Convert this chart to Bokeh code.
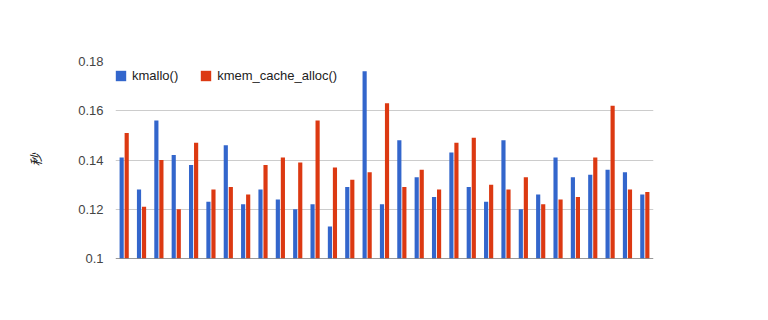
from bokeh.plotting import figure
from bokeh.models import ColumnDataSource, Range1d, FixedTicker, Span, Legend, LegendItem
from bokeh.transform import dodge
from bokeh.embed import file_html
from bokeh.resources import INLINE

groups = list(range(31))
kmallo = [0.141, 0.128, 0.156, 0.142, 0.138, 0.123, 0.146, 0.122, 0.128, 0.124,
          0.120, 0.122, 0.113, 0.129, 0.176, 0.122, 0.148, 0.133, 0.125, 0.143,
          0.129, 0.123, 0.148, 0.120, 0.126, 0.141, 0.133, 0.134, 0.136, 0.135,
          0.126]
kmem_cache_alloc = [0.151, 0.121, 0.140, 0.120, 0.147, 0.128, 0.129, 0.126, 0.138, 0.141,
                    0.139, 0.156, 0.137, 0.132, 0.135, 0.163, 0.129, 0.136, 0.128, 0.147,
                    0.149, 0.130, 0.128, 0.133, 0.122, 0.124, 0.125, 0.141, 0.162, 0.128,
                    0.127]
series_names = ["kmallo()", "kmem_cache_alloc()"]
y_ticks = [0.1, 0.12, 0.14, 0.16, 0.18]
y_tick_labels = ["0.1", "0.12", "0.14", "0.16", "0.18"]
y_title = "秒"

src = ColumnDataSource(dict(x=groups, a=kmallo, b=kmem_cache_alloc))

p = figure(output_backend="svg", toolbar_location=None,
           frame_width=538, frame_height=197,
           min_border_left=115, min_border_right=115,
           min_border_top=61, min_border_bottom=62,
           x_range=Range1d(-0.5, 30.5), y_range=Range1d(0.1, 0.18))
p.outline_line_color = None
p.background_fill_color = "white"
p.border_fill_color = "white"

r1 = p.vbar(x=dodge("x", -0.145), top="a", bottom=0.1, width=0.24, source=src,
            fill_color="#3366cc", line_color=None)
r2 = p.vbar(x=dodge("x", 0.145), top="b", bottom=0.1, width=0.24, source=src,
            fill_color="#dc3912", line_color=None)

# legend proxies (drawn as full squares), placed outside the visible range
l1 = p.quad(left=[-100], right=[-99], bottom=[-1], top=[-0.9],
            fill_color="#3366cc", line_color=None)
l2 = p.quad(left=[-100], right=[-99], bottom=[-1], top=[-0.9],
            fill_color="#dc3912", line_color=None)

p.xaxis.visible = False
p.xgrid.visible = False

ya = p.yaxis[0]
ya.ticker = FixedTicker(ticks=y_ticks)
ya.major_label_overrides = {t: l for t, l in zip(y_ticks, y_tick_labels)}
ya.axis_line_color = None
ya.major_tick_line_color = None
ya.minor_tick_line_color = None
ya.major_tick_in = 0
ya.major_tick_out = 0
ya.major_label_standoff = 12
ya.major_label_text_font = "Liberation Sans"
ya.major_label_text_font_size = "13px"
ya.major_label_text_color = "#444444"
ya.axis_label = y_title
ya.axis_label_text_font = "Noto Sans CJK SC"
ya.axis_label_text_font_style = "italic"
ya.axis_label_text_font_size = "13px"
ya.axis_label_text_color = "#222222"
ya.axis_label_standoff = 30

p.ygrid.ticker = FixedTicker(ticks=y_ticks)
p.ygrid.grid_line_color = "#cccccc"

p.add_layout(Span(location=0.1, dimension="width", line_color="#333333", line_width=1))

legend = Legend(items=[LegendItem(label=series_names[0], renderers=[l1]),
                       LegendItem(label=series_names[1], renderers=[l2])],
                location=(-1, 175), orientation="horizontal",
                glyph_width=13, glyph_height=13, label_height=13,
                label_standoff=5, spacing=21, padding=0, margin=0,
                border_line_color=None, background_fill_alpha=0,
                label_text_font="Liberation Sans", label_text_font_size="13px",
                label_text_color="#222222")
p.add_layout(legend)

open("out.html", "w").write(file_html(p, INLINE))
